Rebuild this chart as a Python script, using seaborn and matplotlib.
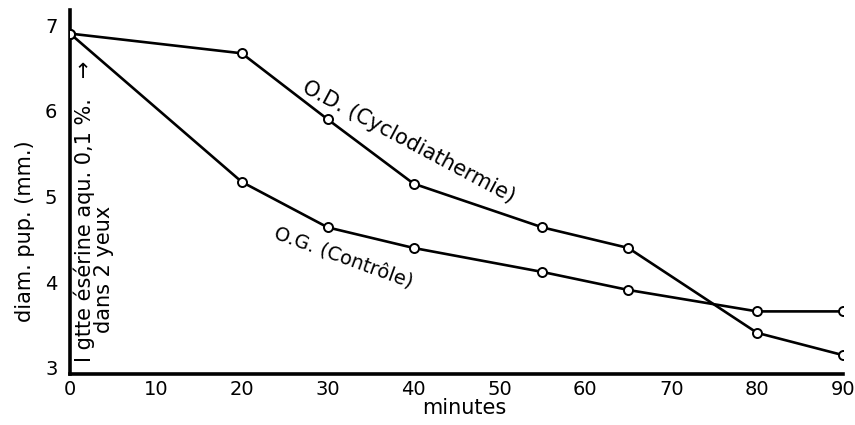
import matplotlib
matplotlib.use("Agg")
import matplotlib.pyplot as plt
import seaborn as sns
import pandas as pd

# Data
minutes = [0, 20, 30, 40, 55, 65, 80, 90]
od_values = [6.90, 6.67, 5.90, 5.15, 4.64, 4.40, 3.41, 3.15]   # O.D. (Cyclodiathermie)
og_values = [6.90, 5.17, 4.64, 4.40, 4.12, 3.91, 3.66, 3.66]   # O.G. (Contrôle)
x_ticks = [0, 10, 20, 30, 40, 50, 60, 70, 80, 90]
y_ticks = [3, 4, 5, 6, 7]
od_label = "O.D. (Cyclodiathermie)"
og_label = "O.G. (Contrôle)"
x_label = "minutes"
y_label = "diam. pup. (mm.)"
note_line1 = "I gtte ésérine aqu. 0,1 %.   →"
note_line2 = "dans 2 yeux"

df = pd.DataFrame({
    "minutes": minutes * 2,
    "value": od_values + og_values,
    "series": ["OD"] * len(minutes) + ["OG"] * len(minutes),
})

sns.set_style("white")
plt.rcParams["font.family"] = ["DejaVu Sans"]
plt.rcParams["text.color"] = "black"
plt.rcParams["axes.labelcolor"] = "black"

fig = plt.figure(figsize=(8.55, 4.25), dpi=100)
ax = fig.add_axes([70 / 855, 1 - 374 / 425, (843 - 70) / 855, (374 - 10) / 425])

for s in ["OD", "OG"]:
    sub = df[df["series"] == s]
    sns.lineplot(data=sub, x="minutes", y="value", ax=ax, color="black",
                 linewidth=1.9, marker="o", markersize=6.5,
                 markerfacecolor="white", markeredgecolor="black",
                 markeredgewidth=1.4, zorder=3)

ax.set_xlim(0, 90)
ax.set_ylim(2.93, 7.175)
ax.set_xticks(x_ticks)
ax.set_yticks(y_ticks)
ax.tick_params(axis="both", length=0, labelsize=14, colors="black")
ax.tick_params(axis="x", pad=4)
ax.tick_params(axis="y", pad=9)
ax.set_xlabel(x_label, fontsize=15)
ax.set_ylabel(y_label, fontsize=15)
ax.xaxis.set_label_coords((464 - 70) / 773, -(408 - 374) / 364)
ax.yaxis.set_label_coords((25 - 70) / 773, (374 - 231) / 364)
ax.xaxis.label.set_verticalalignment("center")
ax.yaxis.label.set_verticalalignment("center")

for side in ["top", "right"]:
    ax.spines[side].set_visible(False)
for side in ["left", "bottom"]:
    ax.spines[side].set_linewidth(2.6)
    ax.spines[side].set_color("black")
    ax.spines[side].set_capstyle("projecting")

ax.text(39.4, 5.64, od_label, rotation=-28, fontsize=15, ha="center", va="center",
        rotation_mode="anchor")
ax.text(31.9, 4.29, og_label, rotation=-20, fontsize=14, ha="center", va="center",
        rotation_mode="anchor")

# Vertical annotation near the y axis
ax.text(1.63, 3.07, note_line1, rotation=90, fontsize=15, ha="left", va="center",
        rotation_mode="anchor")
ax.text(4.0, 3.41, note_line2, rotation=90, fontsize=15, ha="left", va="center",
        rotation_mode="anchor")

fig.savefig("out.png", dpi=100)
